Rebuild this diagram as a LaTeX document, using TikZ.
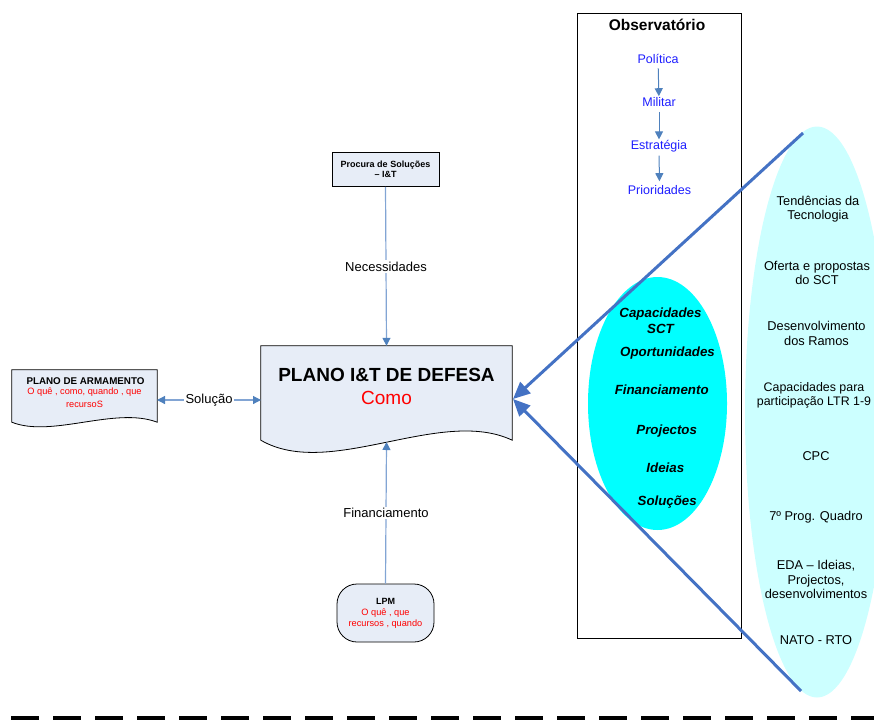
\documentclass[tikz,border=0pt]{standalone}
\usepackage{fontspec}
\setmainfont{Liberation Sans}
\usetikzlibrary{arrows.meta,shapes.geometric}
\definecolor{boxfill}{RGB}{231,237,247}
\definecolor{lnblue}{RGB}{130,165,212}
\definecolor{tipblue}{RGB}{79,129,189}
\definecolor{thickblue}{RGB}{68,114,196}
\definecolor{obsblue}{RGB}{30,30,255}
\definecolor{cyanA}{RGB}{0,255,255}
\definecolor{cyanB}{RGB}{204,255,255}
\definecolor{txtred}{RGB}{255,0,0}
\newcommand\fsz[2]{\fontsize{#1}{#2}\selectfont}
\begin{document}
\begin{tikzpicture}[x=1pt,y=-1pt,
  docshape/.style={draw=black, fill=boxfill, line width=0.8pt},
  thinconn/.style={draw=lnblue, line width=1.2pt},
  tipend/.style={-{Triangle[length=8pt,width=8pt,color=tipblue]}},
  tipboth/.style={{Triangle[length=8pt,width=8pt,color=tipblue]}-{Triangle[length=8pt,width=8pt,color=tipblue]}},
  obsarrow/.style={draw=tipblue, line width=1pt, -{Triangle[length=8pt,width=8pt]}},
  thickarr/.style={draw=thickblue, line width=3pt, -{Triangle[length=17pt,width=15pt]}},
  lbl/.style={fill=white, inner sep=1.5pt, font=\fsz{13}{15}},
  obstxt/.style={text=obsblue, inner sep=1pt, font=\fsz{12.5}{14}},
  capt/.style={font=\bfseries\itshape\fsz{13.3}{16}, inner sep=1pt, align=center},
  rtxt/.style={font=\fsz{12.8}{14.5}, inner sep=1pt, align=center},
  redt/.style={text=txtred, inner sep=0.5pt, font=\fsz{9.2}{10.5}},
  blk/.style={inner sep=0.5pt, font=\bfseries\fsz{9}{10.5}}]
\useasboundingbox (0,0) rectangle (874,720);

% big light-cyan ellipse (clipped at right edge)
\begin{scope}
\clip (0,0) rectangle (874,720);
\node[ellipse, fill=cyanB, minimum width=144, minimum height=571, inner sep=0] (bigell) at (817,412) {};
\end{scope}

% Observatorio box
\node[draw=black, line width=0.8pt, minimum width=164, minimum height=625, inner sep=0] (obs) at (659.5,325.5) {};
\node[font=\bfseries\fsz{15.5}{17}, inner sep=1pt] (obstitle) at (657,25) {Observatório};
\node[obstxt] (pol) at (658,58.5) {Política};
\node[obstxt] (mil) at (659,102) {Militar};
\node[obstxt] (est) at (659,146.5) {Estratégia};
\node[obstxt] (pri) at (659.5,190) {Prioridades};
\draw[obsarrow, shorten <=4pt] (pol) -- (mil);
\draw[obsarrow, shorten <=4pt] (mil) -- (est);
\draw[obsarrow, shorten <=2pt, shorten >=3pt] (est) -- (pri);

% cyan ellipse
\node[ellipse, fill=cyanA, minimum width=139, minimum height=253, inner sep=0] (capell) at (657.5,403.5) {};
\node[capt] (c1) at (660.5,321) {Capacidades\\SCT};
\node[capt] (c2) at (667.5,353.5) {Oportunidades};
\node[capt] (c3) at (661.7,389.5) {Financiamento};
\node[capt] (c4) at (666.7,431) {Projectos};
\node[capt] (c5) at (665.3,467.5) {Ideias};
\node[capt] (c6) at (667.2,502.5) {Soluções};

% right ellipse texts
\node[rtxt] (r1) at (818,209) {Tendências da\\Tecnologia};
\node[rtxt] (r2) at (817,273) {Oferta e propostas\\do SCT};
\node[rtxt] (r3) at (816.5,333.5) {Desenvolvimento\\dos Ramos};
\node[rtxt, font=\fsz{12.4}{14.5}] (r4) at (814,395.5) {Capacidades para\\participação LTR 1-9};
\node[rtxt] (r5) at (816,456.5) {CPC};
\node[rtxt] (r6) at (816,517.5) {7º Prog. Quadro};
\node[rtxt] (r7) at (816,579.5) {EDA – Ideias,\\Projectos,\\desenvolvimentos};
\node[rtxt] (r8) at (816,640) {NATO - RTO};

% PLANO I&T DE DEFESA
\node[inner sep=0, minimum width=251, minimum height=94] (plano) at (386.5,393) {};
\draw[docshape] (plano.south west) -- (plano.north west) -- (plano.north east) -- (plano.south east)
  .. controls +(-72,-34) and +(69,40) .. (plano.south west) -- cycle;
\node[font=\bfseries\fsz{19}{22}, inner sep=0] (pt1) at (386.5,375) {PLANO I\&T DE DEFESA};
\node[font=\fsz{19}{22}, text=txtred, inner sep=0] (pt2) at (386.5,397.5) {Como};
\coordinate (planoR) at (513,399);
\coordinate (planoL) at (261,400);
\coordinate (planoB) at (386.5,442);

% Procura de Solucoes
\node[draw=black, fill=boxfill, line width=0.8pt, minimum width=107, minimum height=34, inner sep=0,
  align=center, font=\bfseries\fsz{9}{10.5}] (proc) at (385.5,169.5) {Procura de Soluções\\– I\&T};

% LPM
\node[draw=black, fill=boxfill, line width=0.8pt, rounded corners=20pt, minimum width=97, minimum height=58, inner sep=0] (lpm) at (385.5,613) {};
\node[blk] (lpm1) at (385.5,601) {LPM};
\node[redt] (lpm2) at (385.5,613) {O quê , que};
\node[redt] (lpm3) at (385.5,624.5) {recursos , quando};

% PLANO DE ARMAMENTO
\node[inner sep=0, minimum width=145, minimum height=52] (arm) at (84.5,396) {};
\draw[docshape] (arm.south west) -- (arm.north west) -- (arm.north east) -- (arm.south east)
  .. controls +(-42,-16) and +(40,16) .. (arm.south west) -- cycle;
\node[blk, font=\bfseries\fsz{9.8}{11}] (a1) at (85.5,381) {PLANO DE ARMAMENTO};
\node[redt] (a2) at (84.5,392.5) {O quê , como, quando , que};
\node[redt] (a3) at (84.5,404) {recursoS};
\coordinate (armR) at (157,400);

% connectors
\draw[thinconn, tipend] (proc.south) -- node[lbl] (necl) {Necessidades} (plano.north);
\draw[thinconn, tipend] (lpm.north) -- node[lbl] (finl) {Financiamento} (planoB);
\draw[thinconn, tipboth] (armR) -- node[lbl] (soll) {Solução} (planoL);

% thick arrows
\coordinate (t1) at (803,133);
\coordinate (t2) at (801,691);
\draw[thickarr] (t1) -- (planoR);
\draw[thickarr] (t2) -- (planoR);

% dashed bottom line
\draw[line width=3.5pt, dash pattern=on 28pt off 14pt, dash phase=31pt] (0,718) -- (874,718);
\end{tikzpicture}
\end{document}
